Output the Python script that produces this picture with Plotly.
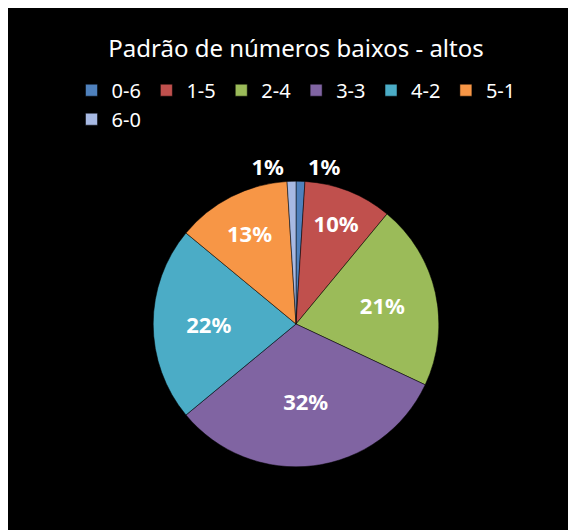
import plotly.graph_objects as go

labels = ["0-6", "1-5", "2-4", "3-3", "4-2", "5-1", "6-0"]
values = [1, 10, 21, 32, 22, 13, 1]
colors = ["#4F81BD", "#C0504D", "#9BBB59", "#8064A2", "#4BACC6", "#F79646", "#A7B9E3"]

fig = go.Figure(go.Pie(
    labels=labels, values=values, sort=False, direction="clockwise", rotation=0,
    marker=dict(colors=colors, line=dict(color="#000000", width=0.5)),
    texttemplate="<b>%{percent:.0%}</b>",
    textposition=["outside", "inside", "inside", "inside", "inside", "inside", "outside"],
    insidetextorientation="horizontal",
    textfont=dict(color="white", size=22, family="Noto Sans"),
    outsidetextfont=dict(color="white", size=22, family="Noto Sans"),
    domain=dict(x=[0.05, 0.95], y=[0.12, 0.68]),
    showlegend=True,
))
fig.update_layout(
    width=576, height=530, paper_bgcolor="black", plot_bgcolor="black",
    margin=dict(l=10, r=10, t=10, b=10),
    title=dict(text="Padrão de números baixos - altos", x=0.5, y=0.94, xanchor="center",
               font=dict(color="white", size=24, family="Noto Sans")),
    legend=dict(orientation="h", x=0.5, xanchor="center", y=0.83, yanchor="middle",
                font=dict(color="white", size=20, family="Noto Sans"), traceorder="normal"),
    uniformtext=dict(minsize=18, mode="show"),
)
fig.write_html("out.html")
